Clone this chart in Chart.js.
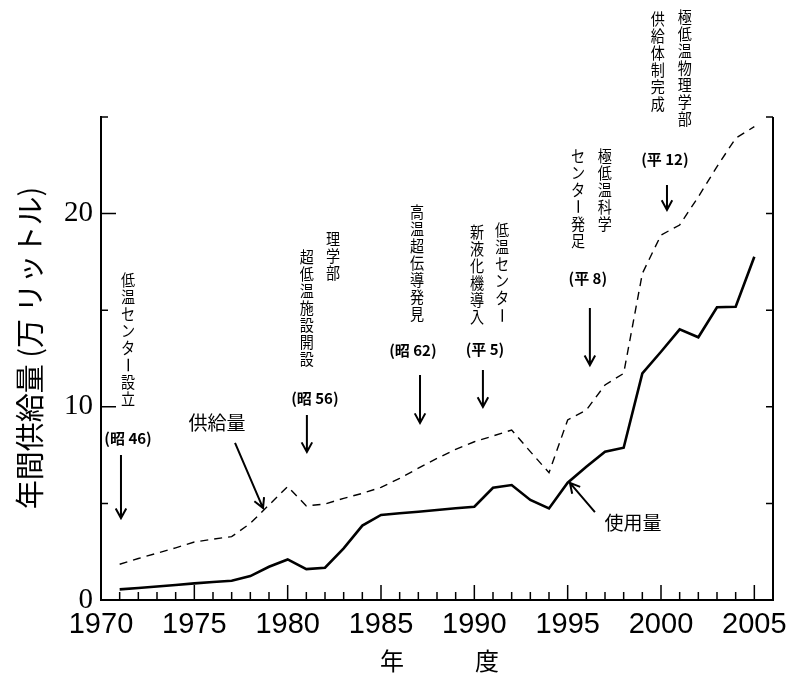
<!DOCTYPE html>
<html>
<head>
<meta charset="utf-8">
<script src="https://cdn.jsdelivr.net/npm/chart.js@4.4.1/dist/chart.umd.min.js"></script>
<style>
	html, body { margin: 0; padding: 0; background: #fff; }
	#wrap { width: 803px; height: 677px; }
</style>
</head>
<body>
<div id="wrap"><canvas id="grafico" width="803" height="677"></canvas></div>
<script>
// Dados (年度, 万リットル)
const anos = [
	1971, 1972, 1973, 1974, 1975, 1976, 1977, 1978, 1979, 1980,
	1981, 1982, 1983, 1984, 1985, 1986, 1987, 1988, 1989, 1990,
	1991, 1992, 1993, 1994, 1995, 1996, 1997, 1998, 1999, 2000,
	2001, 2002, 2003, 2004, 2005
];
const fornecimento = [
	1.85, 2.15, 2.42, 2.7, 3.0, 3.15, 3.28, 3.97, 4.92, 5.87,
	4.87, 4.97, 5.26, 5.52, 5.83, 6.3, 6.82, 7.33, 7.8, 8.19,
	8.49, 8.8, 7.68, 6.59, 9.32, 9.83, 11.13, 11.73, 16.9, 18.89,
	19.41, 20.87, 22.43, 23.9, 24.5
];
const uso = [
	0.55, 0.62, 0.7, 0.78, 0.86, 0.93, 1.0, 1.24, 1.72, 2.1,
	1.6, 1.67, 2.67, 3.85, 4.4, 4.49, 4.57, 4.66, 4.75, 4.83,
	5.81, 5.95, 5.18, 4.74, 6.07, 6.9, 7.68, 7.88, 11.73, 12.85,
	14.01, 13.6, 15.15, 15.18, 17.77
];
const ticksX = [1970, 1975, 1980, 1985, 1990, 1995, 2000, 2005];
const ticksY = [0, 10, 20];

// Anotações (coordenadas em ano / valor)
const textosVerticais = [
	["低温センター設立", 1971.45, 17.0],
	["理学部", 1982.43, 19.15],
	["超低温施設開設", 1981.03, 18.22],
	["高温超伝導発見", 1986.93, 20.55],
	["低温センター", 1991.48, 19.57],
	["新液化機導入", 1990.14, 19.51],
	["極低温科学", 1996.99, 23.45],
	["センター発足", 1995.55, 23.45],
	["極低温物理学部", 2001.28, 30.64],
	["供給体制完成", 1999.83, 30.54]
];
const rotulosEra = [
	["(昭 46)", 1971.45, 8.39],
	["(昭 56)", 1981.46, 10.46],
	["(昭 62)", 1986.71, 12.94],
	["(平 5)", 1990.57, 12.99],
	["(平 8)", 1996.08, 16.67],
	["(平 12)", 2000.21, 22.83]
];
const rotulosSerie = [
	["供給量", 1976.21, 9.16],
	["使用量", 1998.5, 3.99]
];
const setas = [
	[1971.07, 7.5, 1971.07, 4.24],
	[1981.03, 9.58, 1981.03, 7.66],
	[1987.09, 11.65, 1987.09, 9.16],
	[1990.46, 11.9, 1990.46, 9.99],
	[1996.19, 15.11, 1996.19, 12.16],
	[2000.32, 21.48, 2000.32, 20.19],
	[1977.18, 8.13, 1978.68, 4.76],
	[1996.46, 4.55, 1995.12, 6.06]
];

const FONTE_JP = '"Noto Sans CJK JP", "Noto Sans", sans-serif';

function desenharSeta(ctx, x1, y1, x2, y2) {
	const ang = Math.atan2(y2 - y1, x2 - x1);
	const tam = 11;
	ctx.beginPath();
	ctx.moveTo(x1, y1);
	ctx.lineTo(x2, y2);
	ctx.moveTo(x2 - tam * Math.cos(ang - 0.5), y2 - tam * Math.sin(ang - 0.5));
	ctx.lineTo(x2, y2);
	ctx.lineTo(x2 - tam * Math.cos(ang + 0.5), y2 - tam * Math.sin(ang + 0.5));
	ctx.stroke();
}

function desenharVertical(ctx, texto, x, yTopo) {
	const passo = 17;
	ctx.font = "16px " + FONTE_JP;
	ctx.textAlign = "center";
	ctx.textBaseline = "middle";
	[...texto].forEach((c, i) => {
		const y = yTopo + passo / 2 + i * passo;
		ctx.save();
		ctx.translate(x, y);
		if (c === "ー") {
			ctx.rotate(Math.PI / 2);
		} else {
			ctx.scale(0.88, 1);
		}
		ctx.fillText(c, 0, 0);
		ctx.restore();
	});
}

const pluginEixos = {
	id: "eixos",
	afterDraw(chart) {
		const { ctx, chartArea: a, scales } = chart;
		const sx = scales.x;
		const sy = scales.y;
		ctx.save();
		ctx.strokeStyle = "#000";
		ctx.fillStyle = "#000";

		// eixo direito
		ctx.lineWidth = 2;
		ctx.beginPath();
		ctx.moveTo(a.right, a.top);
		ctx.lineTo(a.right, a.bottom);
		ctx.stroke();

		// marcas do eixo x (para dentro)
		ctx.lineWidth = 1.5;
		for (let ano = 1970; ano <= 2005; ano++) {
			const px = sx.getPixelForValue(ano);
			const tam = ano % 5 === 0 ? 15 : 8;
			ctx.beginPath();
			ctx.moveTo(px, a.bottom);
			ctx.lineTo(px, a.bottom - tam);
			ctx.stroke();
		}
		// marcas do eixo y
		for (let v = 5; v <= 25; v += 5) {
			const py = sy.getPixelForValue(v);
			const tam = v % 10 === 0 ? 15 : 7;
			ctx.beginPath();
			ctx.moveTo(a.left, py);
			ctx.lineTo(a.left + tam, py);
			ctx.moveTo(a.right, py);
			ctx.lineTo(a.right - 7, py);
			ctx.stroke();
		}

		// título y
		ctx.save();
		ctx.translate(30, 348);
		ctx.rotate(-Math.PI / 2);
		ctx.font = "29px " + FONTE_JP;
		ctx.textAlign = "center";
		ctx.textBaseline = "middle";
		ctx.fillText("年間供給量 (万 リットル)", 0, 0);
		ctx.restore();

		// título x
		ctx.font = "24px " + FONTE_JP;
		ctx.textAlign = "center";
		ctx.textBaseline = "middle";
		ctx.fillText("年", 392, 661);
		ctx.fillText("度", 487, 661);

		// anotações
		textosVerticais.forEach(([t, ano, v]) => {
			desenharVertical(ctx, t, sx.getPixelForValue(ano), sy.getPixelForValue(v));
		});
		ctx.font = "bold 15px " + FONTE_JP;
		ctx.textAlign = "center";
		ctx.textBaseline = "middle";
		rotulosEra.forEach(([t, ano, v]) => {
			ctx.fillText(t, sx.getPixelForValue(ano), sy.getPixelForValue(v));
		});
		ctx.font = "19px " + FONTE_JP;
		rotulosSerie.forEach(([t, ano, v]) => {
			ctx.fillText(t, sx.getPixelForValue(ano), sy.getPixelForValue(v));
		});
		ctx.lineWidth = 2;
		setas.forEach(([a1, v1, a2, v2]) => {
			desenharSeta(
				ctx,
				sx.getPixelForValue(a1),
				sy.getPixelForValue(v1),
				sx.getPixelForValue(a2),
				sy.getPixelForValue(v2)
			);
		});
		ctx.restore();
	}
};

const ctxGrafico = document.getElementById("grafico").getContext("2d");
new Chart(ctxGrafico, {
	type: "line",
	data: {
		datasets: [
			{
				label: "供給量",
				data: anos.map((a, i) => ({ x: a, y: fornecimento[i] })),
				borderColor: "#000",
				borderWidth: 1.4,
				borderDash: [8, 6],
				pointRadius: 0,
				tension: 0,
				fill: false
			},
			{
				label: "使用量",
				data: anos.map((a, i) => ({ x: a, y: uso[i] })),
				borderColor: "#000",
				borderWidth: 2.6,
				pointRadius: 0,
				tension: 0,
				fill: false
			}
		]
	},
	options: {
		responsive: false,
		animation: false,
		devicePixelRatio: 1,
		layout: { padding: { top: 117, right: 30, left: 0, bottom: 0 } },
		plugins: { legend: { display: false }, tooltip: { enabled: false } },
		scales: {
			x: {
				type: "linear",
				min: 1970,
				max: 2006,
				grid: { display: false, drawTicks: false },
				border: { display: true, color: "#000", width: 2 },
				afterFit: (s) => { s.height = 77; },
				afterBuildTicks: (s) => { s.ticks = ticksX.map((v) => ({ value: v })); },
				ticks: {
					padding: 8,
					color: "#000",
					maxRotation: 0,
					autoSkip: false,
					font: { family: '"Liberation Sans", Arial, sans-serif', size: 29 },
					callback: (v) => String(v)
				}
			},
			y: {
				min: 0,
				max: 25,
				grid: { display: false, drawTicks: false },
				border: { display: true, color: "#000", width: 2 },
				afterFit: (s) => { s.width = 101; },
				afterBuildTicks: (s) => { s.ticks = ticksY.map((v) => ({ value: v })); },
				ticks: {
					padding: 8,
					color: "#000",
					font: { family: '"Liberation Serif", "Times New Roman", serif', size: 29 },
					callback: (v) => String(v)
				}
			}
		}
	},
	plugins: [pluginEixos]
});
</script>
</body>
</html>
